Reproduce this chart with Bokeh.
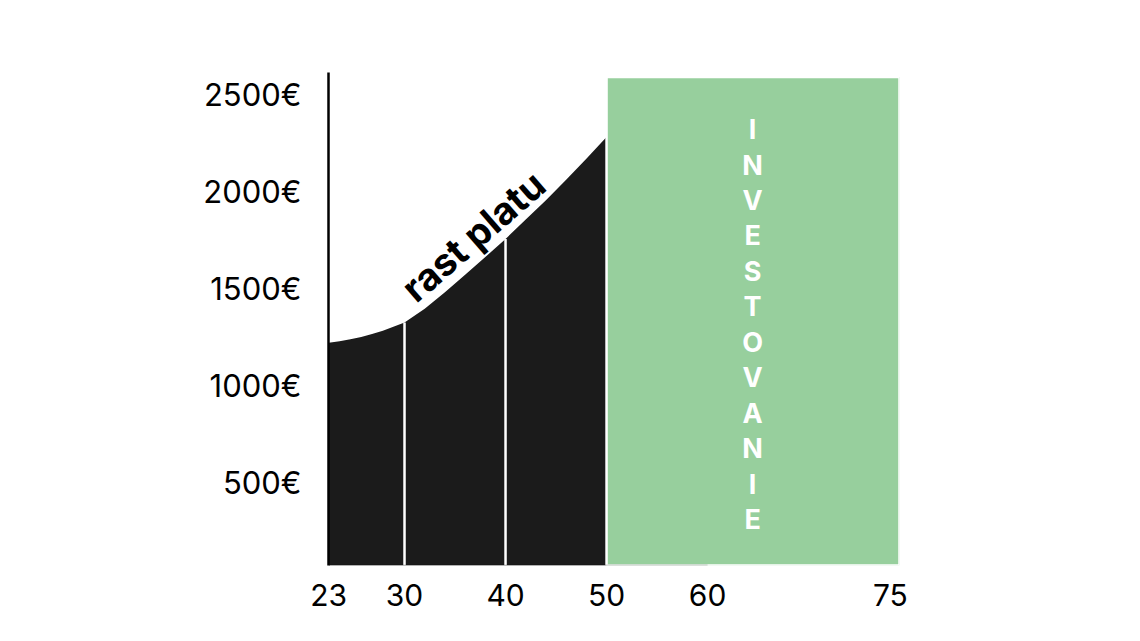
import numpy as np
from bokeh.plotting import figure
from bokeh.models import Range1d, FixedTicker, PrintfTickFormatter, Label
from bokeh.embed import file_html
from bokeh.resources import INLINE

# ---- data ----
ages = [23, 24, 25, 26, 27, 28, 30, 32, 34, 36, 38, 40, 42, 44, 46, 48, 50]
salary = [1220, 1228, 1238, 1250, 1265, 1282, 1325, 1395, 1480, 1570, 1662,
          1755, 1855, 1955, 2060, 2168, 2280]
stage_ages = [30, 40]            # white dividers inside the black area
invest_start = 50
invest_top = 2590
x_tick_ages = [23, 30, 40, 50, 60, 75]
y_ticks = [500, 1000, 1500, 2000, 2500]
curve_label = "rast platu"
box_label = "INVESTOVANIE"

# ---- layout (the age axis of the original is drawn unevenly) ----
tick_pos = [22.5, 30, 40, 50, 60, 78.1]


def xpos(a):
    return np.interp(a, x_tick_ages, tick_pos)


FONT = "Inter"
BLACK = "#1b1b1b"
GREEN = "#97cf9d"

x_range = Range1d(22.475, 79.0)
y_range = Range1d(72, 2613)
y0 = y_range.start

p = figure(x_range=x_range, y_range=y_range,
           frame_width=571, frame_height=493,
           min_border_left=328, min_border_right=225,
           min_border_top=72, min_border_bottom=60,
           output_backend="svg", toolbar_location=None,
           background_fill_color="white", border_fill_color="white")
p.outline_line_color = None
p.xgrid.visible = False
p.ygrid.visible = False

# salary area
curve_x = xpos(ages)
p.varea(x=curve_x, y1=[y0] * len(ages), y2=salary, color=BLACK)

# dividers
sal_at = dict(zip(ages, salary))
p.segment(x0=xpos(stage_ages), y0=[y0] * len(stage_ages),
          x1=xpos(stage_ages), y1=[sal_at[a] for a in stage_ages],
          line_color="white", line_width=2.5)

# investing block
p.quad(left=[xpos(invest_start)], right=[x_range.end], bottom=[y0], top=[invest_top],
       fill_color=GREEN, line_color="white", line_width=2.5)

# thin base line from first to 60
p.line(x=[xpos(x_tick_ages[0]), xpos(x_tick_ages[4])], y=[y0, y0],
       line_color="black", line_alpha=0.2, line_width=2)

# labels
p.add_layout(Label(x=36.8, y=1770, text=curve_label, angle=0.716,
                   text_align="center", text_baseline="middle",
                   text_font=FONT, text_font_style="bold",
                   text_font_size="38px", text_color="black"))
p.add_layout(Label(x=64.46, y=1314, text="\n".join(box_label),
                   text_align="center", text_baseline="middle",
                   text_font=FONT, text_font_style="bold",
                   text_font_size="27px", text_color="white",
                   text_line_height=1.074))

# axes
p.xaxis.ticker = FixedTicker(ticks=tick_pos)
p.xaxis.major_label_overrides = {pos: str(a) for pos, a in zip(tick_pos, x_tick_ages)}
p.xaxis.axis_line_color = None
p.xaxis.major_tick_line_color = None
p.xaxis.minor_tick_line_color = None
p.xaxis.major_label_text_font = FONT
p.xaxis.major_label_text_font_size = "30px"
p.xaxis.major_label_text_color = "black"
p.xaxis.major_label_standoff = 12

p.yaxis.ticker = FixedTicker(ticks=y_ticks)
p.yaxis.formatter = PrintfTickFormatter(format="%d€")
p.yaxis.axis_line_color = "black"
p.yaxis.axis_line_width = 2.5
p.yaxis.major_tick_line_color = None
p.yaxis.minor_tick_line_color = None
p.yaxis.major_label_text_font = FONT
p.yaxis.major_label_text_font_size = "31px"
p.yaxis.major_label_text_color = "black"
p.yaxis.major_label_standoff = 21

open("out.html", "w").write(file_html(p, INLINE))
